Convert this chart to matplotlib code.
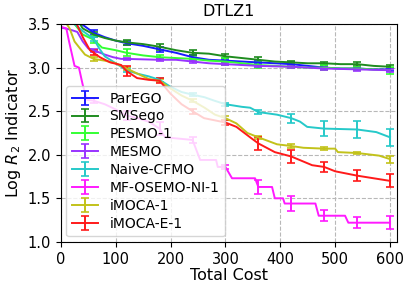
import matplotlib
matplotlib.use("Agg")
import matplotlib.pyplot as plt
import numpy as np

# ---- data (log R2 indicator vs total cost) ----
err_x = [60, 120, 180, 240, 300, 360, 420, 480, 540, 600]

parego_x = [0, 20, 38, 60, 80, 100, 120, 150, 180, 210, 240, 270, 300, 330, 360, 390, 420, 450, 480, 510, 540, 570, 600]
parego_y = [3.9, 3.7, 3.5, 3.40, 3.35, 3.31, 3.28, 3.25, 3.21, 3.17, 3.12, 3.09, 3.08, 3.07, 3.06, 3.05, 3.04, 3.02, 3.00, 2.99, 2.99, 2.98, 2.98]
parego_e = [0.03, 0.025, 0.03, 0.02, 0.02, 0.02, 0.02, 0.02, 0.015, 0.015]

smsego_x = [0, 20, 40, 60, 80, 100, 120, 150, 180, 210, 240, 270, 300, 330, 360, 390, 420, 450, 480, 510, 540, 570, 600]
smsego_y = [3.9, 3.65, 3.45, 3.38, 3.34, 3.31, 3.29, 3.27, 3.24, 3.20, 3.17, 3.16, 3.13, 3.11, 3.09, 3.07, 3.06, 3.05, 3.05, 3.04, 3.04, 3.02, 3.01]
smsego_e = [0.03, 0.03, 0.035, 0.03, 0.025, 0.03, 0.02, 0.02, 0.025, 0.02]

pesmo_x = [0, 25, 40, 60, 75, 100, 120, 150, 180, 210, 240, 270, 300, 330, 360, 390, 420, 450, 480, 510, 540, 570, 600]
pesmo_y = [3.9, 3.5, 3.38, 3.32, 3.23, 3.20, 3.17, 3.14, 3.12, 3.11, 3.10, 3.08, 3.07, 3.05, 3.03, 3.02, 3.01, 3.00, 3.00, 2.99, 2.99, 2.98, 2.97]
pesmo_e = [0.04, 0.04, 0.02, 0.02, 0.04, 0.04, 0.02, 0.03, 0.02, 0.04]

mesmo_x = [0, 15, 30, 40, 50, 60, 80, 95, 110, 120, 180, 210, 240, 270, 300, 330, 360, 420, 480, 540, 600]
mesmo_y = [3.46, 3.44, 3.41, 3.30, 3.22, 3.20, 3.15, 3.12, 3.10, 3.10, 3.09, 3.09, 3.07, 3.05, 3.04, 3.03, 3.02, 3.01, 2.99, 2.98, 2.97]
mesmo_e = [0.015, 0.015, 0.015, 0.015, 0.015, 0.015, 0.015, 0.015, 0.015, 0.015]

naive_x = [0, 25, 40, 60, 70, 80, 100, 120, 140, 160, 180, 200, 220, 240, 262, 280, 300, 330, 345, 360, 394, 420, 436, 449, 480, 540, 575, 600]
naive_y = [3.9, 3.5, 3.42, 3.33, 3.22, 3.13, 3.05, 2.97, 2.93, 2.90, 2.86, 2.78, 2.72, 2.69, 2.66, 2.62, 2.58, 2.55, 2.54, 2.49, 2.46, 2.42, 2.38, 2.32, 2.30, 2.29, 2.26, 2.20]
naive_e = [0.02, 0.02, 0.02, 0.02, 0.015, 0.02, 0.05, 0.085, 0.10, 0.10]

mfosemo_x = [0, 10, 15, 25, 33, 40, 48, 60, 80, 100, 120, 140, 160, 180, 190, 240, 254, 283, 286, 300, 312, 354, 360, 385, 390, 405, 408, 420, 464, 470, 480, 518, 524, 540, 600]
mfosemo_y = [3.47, 3.45, 3.30, 3.02, 3.00, 2.80, 2.63, 2.62, 2.58, 2.52, 2.45, 2.42, 2.38, 2.30, 2.20, 2.17, 1.94, 1.94, 1.86, 1.86, 1.73, 1.73, 1.63, 1.63, 1.50, 1.50, 1.44, 1.44, 1.44, 1.30, 1.30, 1.30, 1.22, 1.22, 1.22]
mfosemo_e = [0.03, 0.05, 0.075, 0.03, 0.02, 0.075, 0.085, 0.065, 0.06, 0.075]

imoca_x = [0, 16, 25, 35, 44, 60, 80, 100, 120, 140, 160, 180, 200, 220, 240, 262, 281, 300, 320, 340, 360, 394, 420, 442, 480, 500, 505, 540, 580, 600]
imoca_y = [3.6, 3.45, 3.30, 3.22, 3.15, 3.10, 3.08, 3.05, 2.99, 2.93, 2.87, 2.85, 2.76, 2.68, 2.62, 2.54, 2.46, 2.42, 2.36, 2.25, 2.20, 2.12, 2.10, 2.08, 2.07, 2.07, 2.03, 2.02, 1.99, 1.95]
imoca_e = [0.02, 0.02, 0.02, 0.02, 0.02, 0.02, 0.02, 0.015, 0.015, 0.04]

imocae_x = [0, 29, 40, 53, 60, 71, 90, 110, 120, 139, 160, 180, 200, 220, 240, 261, 300, 320, 345, 360, 390, 420, 458, 480, 500, 540, 570, 600]
imocae_y = [3.9, 3.5, 3.35, 3.20, 3.17, 3.12, 3.06, 3.03, 2.96, 2.88, 2.86, 2.85, 2.70, 2.58, 2.50, 2.42, 2.37, 2.32, 2.20, 2.13, 2.03, 1.98, 1.88, 1.86, 1.81, 1.76, 1.73, 1.70]
imocae_e = [0.03, 0.06, 0.03, 0.03, 0.03, 0.075, 0.075, 0.057, 0.06, 0.075]

names = ["ParEGO", "SMSego", "PESMO-1", "MESMO", "Naive-CFMO", "MF-OSEMO-NI-1", "iMOCA-1", "iMOCA-E-1"]
colors = ["#1a1aff", "#1f8c1f", "#33ff33", "#9933ff", "#26c9c9", "#ff1aff", "#c2c21a", "#ff1a1a"]
series = [(parego_x, parego_y, parego_e), (smsego_x, smsego_y, smsego_e),
          (pesmo_x, pesmo_y, pesmo_e), (mesmo_x, mesmo_y, mesmo_e),
          (naive_x, naive_y, naive_e), (mfosemo_x, mfosemo_y, mfosemo_e),
          (imoca_x, imoca_y, imoca_e), (imocae_x, imocae_y, imocae_e)]

fig = plt.figure(figsize=(4.11, 2.90), dpi=100)
ax = fig.add_axes([0.148, 0.166, 0.817, 0.751])

for name, col, (xs, ys, es) in zip(names, colors, series):
    xs = np.array(xs, dtype=float)
    yerr = np.zeros(len(xs))
    idx = [list(xs).index(c) for c in err_x]
    yerr[idx] = es
    ax.errorbar(xs, ys, yerr=yerr, errorevery=idx, color=col, lw=1.4,
                elinewidth=1.4, capsize=3, capthick=1.2, label=name)

ax.set_xlim(0, 612)
ax.set_ylim(1.0, 3.5)
ax.set_xticks([0, 100, 200, 300, 400, 500, 600])
ax.set_yticks([1.0, 1.5, 2.0, 2.5, 3.0, 3.5])
ax.tick_params(labelsize=10.5)
ax.grid(True, linestyle="--", color="#b8b8b8", lw=0.8)
ax.set_xlabel("Total Cost", fontsize=11.5, labelpad=1)
ax.set_ylabel("Log $R_2$ Indicator", fontsize=11.5, labelpad=3)
ax.set_title("DTLZ1", fontsize=11.5)
ax.legend(loc="lower left", fontsize=10, handlelength=1.9,
          borderaxespad=0.4, labelspacing=0.28, handletextpad=0.8)

fig.savefig("out.png", dpi=100)
